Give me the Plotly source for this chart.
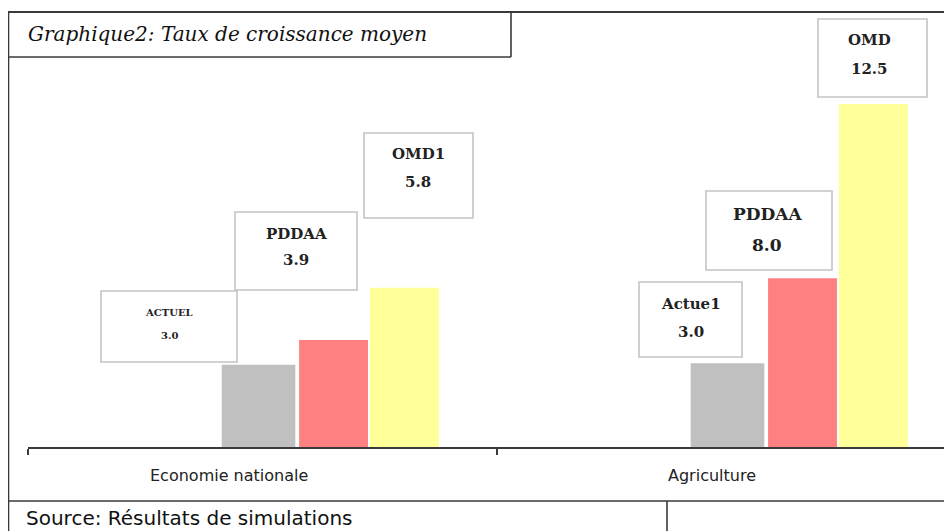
import plotly.graph_objects as go

# ---- data ----
categories = ["Economie nationale", "Agriculture"]
series_names = ["Actuel", "PDDAA", "OMD"]
actuel = [3.0, 3.05]
pddaa = [3.9, 6.15]
omd = [5.8, 12.5]
box_titles = [["ACTUEL", "PDDAA", "OMD1"], ["Actue1", "PDDAA", "OMD"]]
box_values = [["3.0", "3.9", "5.8"], ["3.0", "8.0", "12.5"]]
title_text = "Graphique2: Taux de croissance moyen"
source_text = "Source: Résultats de simulations"

# page has an 8px body margin: figure spans viewport px 8..952, 8..531
OFF = 8
W, H = 952 - OFF, 531 - OFF
def px(x):
    return (x - OFF) / W
def py(y):
    return 1 - (y - OFF) / H

colors = ["#c0c0c0", "#ff8080", "#ffff99"]
offsets = [-0.087, 0.078, 0.229]
widths = [0.157, 0.147, 0.147]

xpos = list(range(len(categories)))
fig = go.Figure()
for name, vals, c, off, w in zip(series_names, [actuel, pddaa, omd], colors, offsets, widths):
    fig.add_trace(go.Bar(x=xpos, y=vals, name=name, marker=dict(color=c, line=dict(width=0)),
                         offset=off, width=w, hoverinfo="y+name"))

shapes = []
LC = "#3a3a3a"
def line(x0, y0, x1, y1, w=1.6):
    shapes.append(dict(type="line", xref="paper", yref="paper", x0=px(x0), y0=py(y0),
                       x1=px(x1), y1=py(y1), line=dict(color=LC, width=w)))
line(8.5, 12, 8.5, 531)
line(8, 12, 952, 12, 2)
line(511, 12, 511, 57)
line(8, 57, 511, 57)
line(8, 501, 952, 501)
line(667, 501, 667, 531)

# label boxes (pixel geometry)
boxes = [
    [dict(x0=101, x1=237, y0=291, y1=362, cx=169, t1=312, t2=335, fs=10),
     dict(x0=235, x1=357, y0=212, y1=290, cx=296, t1=234, t2=260, fs=15),
     dict(x0=364, x1=473, y0=133, y1=218, cx=418, t1=154, t2=182, fs=15)],
    [dict(x0=639, x1=742, y0=282, y1=357, cx=691, t1=304, t2=332, fs=15),
     dict(x0=706, x1=832, y0=191, y1=270, cx=767, t1=214, t2=245, fs=17),
     dict(x0=818, x1=927, y0=19, y1=97, cx=869, t1=40, t2=69, fs=15)],
]
annotations = []
for ci in range(len(categories)):
    for si in range(3):
        b = boxes[ci][si]
        shapes.append(dict(type="rect", xref="paper", yref="paper", x0=px(b["x0"]), x1=px(b["x1"]),
                           y0=py(b["y1"]), y1=py(b["y0"]), line=dict(color="#c4c4c4", width=1.6),
                           fillcolor="white", layer="above"))
        for txt, yy in ((box_titles[ci][si], b["t1"]), (box_values[ci][si], b["t2"])):
            annotations.append(dict(text="<b>" + txt + "</b>", xref="paper", yref="paper",
                                    x=px(b["cx"]), y=py(yy), showarrow=False,
                                    xanchor="center", yanchor="middle",
                                    font=dict(family="DejaVu Serif", size=b["fs"], color="#222")))

# category labels
cat_shift = [-34, -20]
for i, cat in enumerate(categories):
    annotations.append(dict(text=cat, xref="x", yref="paper", x=xpos[i], y=py(475), xshift=cat_shift[i],
                            showarrow=False, xanchor="center", yanchor="middle",
                            font=dict(family="DejaVu Sans", size=16, color="#222")))

annotations.append(dict(text="<i>" + title_text + "</i>", xref="paper", yref="paper", x=px(26), y=py(34),
                        showarrow=False, xanchor="left", yanchor="middle",
                        font=dict(family="DejaVu Serif", size=20, color="#111")))
annotations.append(dict(text=source_text, xref="paper", yref="paper", x=px(24), y=py(518),
                        showarrow=False, xanchor="left", yanchor="middle",
                        font=dict(family="DejaVu Sans", size=20, color="#111")))

fig.update_layout(
    width=W, height=H,
    margin=dict(l=0, r=0, t=0, b=0),
    paper_bgcolor="white", plot_bgcolor="white",
    showlegend=False,
    shapes=shapes, annotations=annotations,
    xaxis=dict(domain=[px(28), 1], range=[-0.5, -0.5 + 924 / 469], showgrid=False, zeroline=False,
               showline=True, linecolor=LC, linewidth=2, ticks="outside", ticklen=6, tickwidth=1.5,
               tickcolor=LC, tickvals=[-0.5, 0.5, 1.5], showticklabels=False, fixedrange=True),
    yaxis=dict(domain=[py(447), py(57)], range=[0, 390 / 27.44], showgrid=False, zeroline=False,
               showline=False, showticklabels=False, ticks="", fixedrange=True),
)
fig.write_html("out.html")
